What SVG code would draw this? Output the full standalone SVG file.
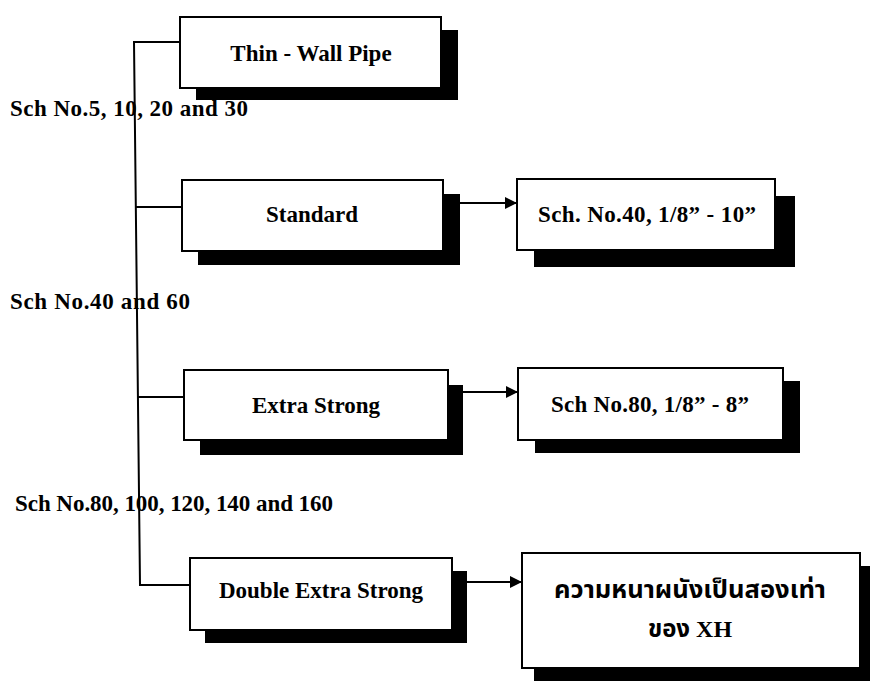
<svg xmlns="http://www.w3.org/2000/svg" width="870" height="684" viewBox="0 0 870 684">
<defs>
<style>
.box{fill:#fff;stroke:#000;stroke-width:2}
.sh{fill:#000}
.t{font-family:"Liberation Serif","Times New Roman",serif;font-weight:bold;font-size:23px;fill:#000}
.c{text-anchor:middle}
.ln{fill:none;stroke:#000;stroke-width:2}
.th{font-family:"Liberation Serif","Noto Sans Thai","Loma","Garuda","Norasi","DejaVu Sans",serif;font-weight:bold;font-size:24px;fill:#000}
</style>
<marker id="ah" viewBox="0 0 10 10" refX="10" refY="5" markerWidth="13" markerHeight="12" markerUnits="userSpaceOnUse" orient="auto">
<path d="M0,0 L10,5 L0,10 z" fill="#000"/>
</marker>
</defs>
<rect width="870" height="684" fill="#fff"/>
<g id="connectors">
<path class="ln" d="M180,42 H134 L140,585 H190"/>
<path class="ln" d="M135,207 H182"/>
<path class="ln" d="M138,397 H184"/>
<path class="ln" d="M460,203 H517" marker-end="url(#ah)"/>
<path class="ln" d="M463,392 H518" marker-end="url(#ah)"/>
<path class="ln" d="M467,582 H522" marker-end="url(#ah)"/>
</g>
<g id="label-sch5">
<text class="t" x="10" y="116" textLength="238">Sch No.5, 10, 20 and 30</text>
</g>
<g id="label-sch40">
<text class="t" x="10" y="309" textLength="180">Sch No.40 and 60</text>
</g>
<g id="label-sch80">
<text class="t" x="15" y="511" textLength="318">Sch No.80, 100, 120, 140 and 160</text>
</g>
<g id="thin-wall">
<rect class="sh" x="196" y="30" width="262" height="70"/>
<rect class="box" x="180" y="17" width="261" height="71"/>
<text class="t c" x="311" y="61">Thin - Wall Pipe</text>
</g>
<g id="standard">
<rect class="sh" x="198" y="194" width="262" height="71"/>
<rect class="box" x="182" y="180" width="261" height="71"/>
<text class="t c" x="312" y="222">Standard</text>
</g>
<g id="sch40">
<rect class="sh" x="534" y="196" width="261" height="71"/>
<rect class="box" x="517" y="179" width="258" height="71"/>
<text class="t c" x="647" y="222" textLength="218">Sch. No.40, 1/8” - 10”</text>
</g>
<g id="extra-strong">
<rect class="sh" x="200" y="385" width="263" height="70"/>
<rect class="box" x="184" y="370" width="264" height="70"/>
<text class="t c" x="316" y="413">Extra Strong</text>
</g>
<g id="sch80">
<rect class="sh" x="535" y="381" width="265" height="72"/>
<rect class="box" x="518" y="368" width="265" height="72"/>
<text class="t c" x="650" y="412" textLength="198">Sch No.80, 1/8” - 8”</text>
</g>
<g id="double-extra-strong">
<rect class="sh" x="205" y="571" width="262" height="72"/>
<rect class="box" x="190" y="558" width="262" height="72"/>
<text class="t c" x="321" y="598">Double Extra Strong</text>
</g>
<g id="xxh">
<rect class="sh" x="534" y="566" width="338" height="115"/>
<rect class="box" x="522" y="553" width="338" height="115"/>
<text class="th c" x="690" y="598" textLength="272" lengthAdjust="spacingAndGlyphs">ความหนาผนังเป็นสองเท่า</text>
<text class="th c" x="690" y="637">ของ XH</text>
</g>
</svg>
